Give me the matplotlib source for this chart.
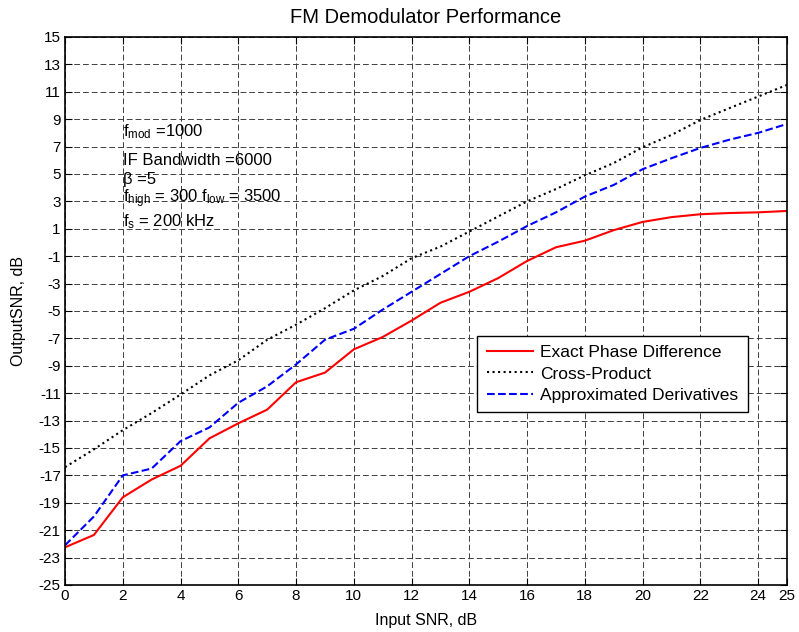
import matplotlib
matplotlib.use('Agg')
import matplotlib.pyplot as plt
import numpy as np

plt.rcParams['font.family'] = ['Liberation Sans', 'DejaVu Sans']
plt.rcParams['mathtext.fontset'] = 'custom'
plt.rcParams['mathtext.rm'] = 'Liberation Sans'
plt.rcParams['mathtext.it'] = 'Liberation Sans:italic'
plt.rcParams['axes.unicode_minus'] = False

# input SNR, dB
snr_in = list(range(0, 26))

exact_phase = [-22.25, -21.35, -18.6, -17.3, -16.3, -14.3, -13.2, -12.2, -10.2, -9.5,
               -7.8, -6.9, -5.7, -4.4, -3.6, -2.6, -1.35, -0.35, 0.13, 0.9,
               1.5, 1.85, 2.06, 2.15, 2.2, 2.3]
cross_product = [-16.4, -15.1, -13.7, -12.45, -11.1, -9.7, -8.6, -7.1, -6.0, -4.8,
                 -3.5, -2.45, -1.15, -0.3, 0.8, 1.9, 3.0, 3.9, 4.9, 5.8,
                 6.95, 7.85, 8.94, 9.8, 10.65, 11.5]
approx_deriv = [-22.1, -20.0, -17.0, -16.5, -14.5, -13.5, -11.7, -10.5, -8.9, -7.1,
                -6.3, -4.9, -3.6, -2.3, -1.0, 0.06, 1.2, 2.2, 3.35, 4.2,
                5.35, 6.15, 6.9, 7.5, 8.0, 8.65]

xticks = list(range(0, 25, 2)) + [25]
yticks = list(range(-25, 16, 2))

info_lines = [r'f$_{\rm mod}$ =1000',
              'IF Bandwidth =6000',
              'β =5',
              r'f$_{\rm high}$ = 300 f$_{\rm low}$ = 3500',
              r'f$_{\rm s}$ = 200 kHz']
info_y = [8.1, 6.0, 4.6, 3.2, 1.5]

fig = plt.figure(figsize=(7.99, 6.32), dpi=100)
ax = fig.add_axes([0.0814, 0.0744, 0.9036, 0.8671])

ax.plot(snr_in, exact_phase, color='#ff0000', lw=1.5, label='Exact Phase Difference')
ax.plot(snr_in, cross_product, color='k', lw=1.5, ls=':', label='Cross-Product')
ax.plot(snr_in, approx_deriv, color='#0000ff', lw=1.5, ls='--', label='Approximated Derivatives')

ax.set_xlim(0, 25)
ax.set_ylim(-25, 15)
ax.set_xticks(xticks)
ax.set_yticks(yticks)
ax.tick_params(direction='in', top=True, right=True, length=5, labelsize=11, width=0.8, pad=3)
ax.grid(True, color='0.25', ls=(0, (6, 3)), lw=0.7)
for s in ax.spines.values():
    s.set_linewidth(1.2)

for txt, yy in zip(info_lines, info_y):
    ax.text(2.0, yy, txt, fontsize=12, va='center', ha='left')

ax.set_title('FM Demodulator Performance', fontsize=14.5, pad=10)
ax.set_xlabel('Input SNR, dB', fontsize=11.5, labelpad=7)
ax.set_ylabel('OutputSNR, dB', fontsize=11.5, labelpad=9)

leg = ax.legend(loc='upper right', bbox_to_anchor=(0.946, 0.455), fontsize=12.5,
                fancybox=False, edgecolor='k', framealpha=1, borderpad=0.55,
                labelspacing=0.35, handlelength=2.7, handletextpad=0.4, borderaxespad=0)
leg.get_frame().set_linewidth(1.0)

plt.savefig('out.png', dpi=100)
